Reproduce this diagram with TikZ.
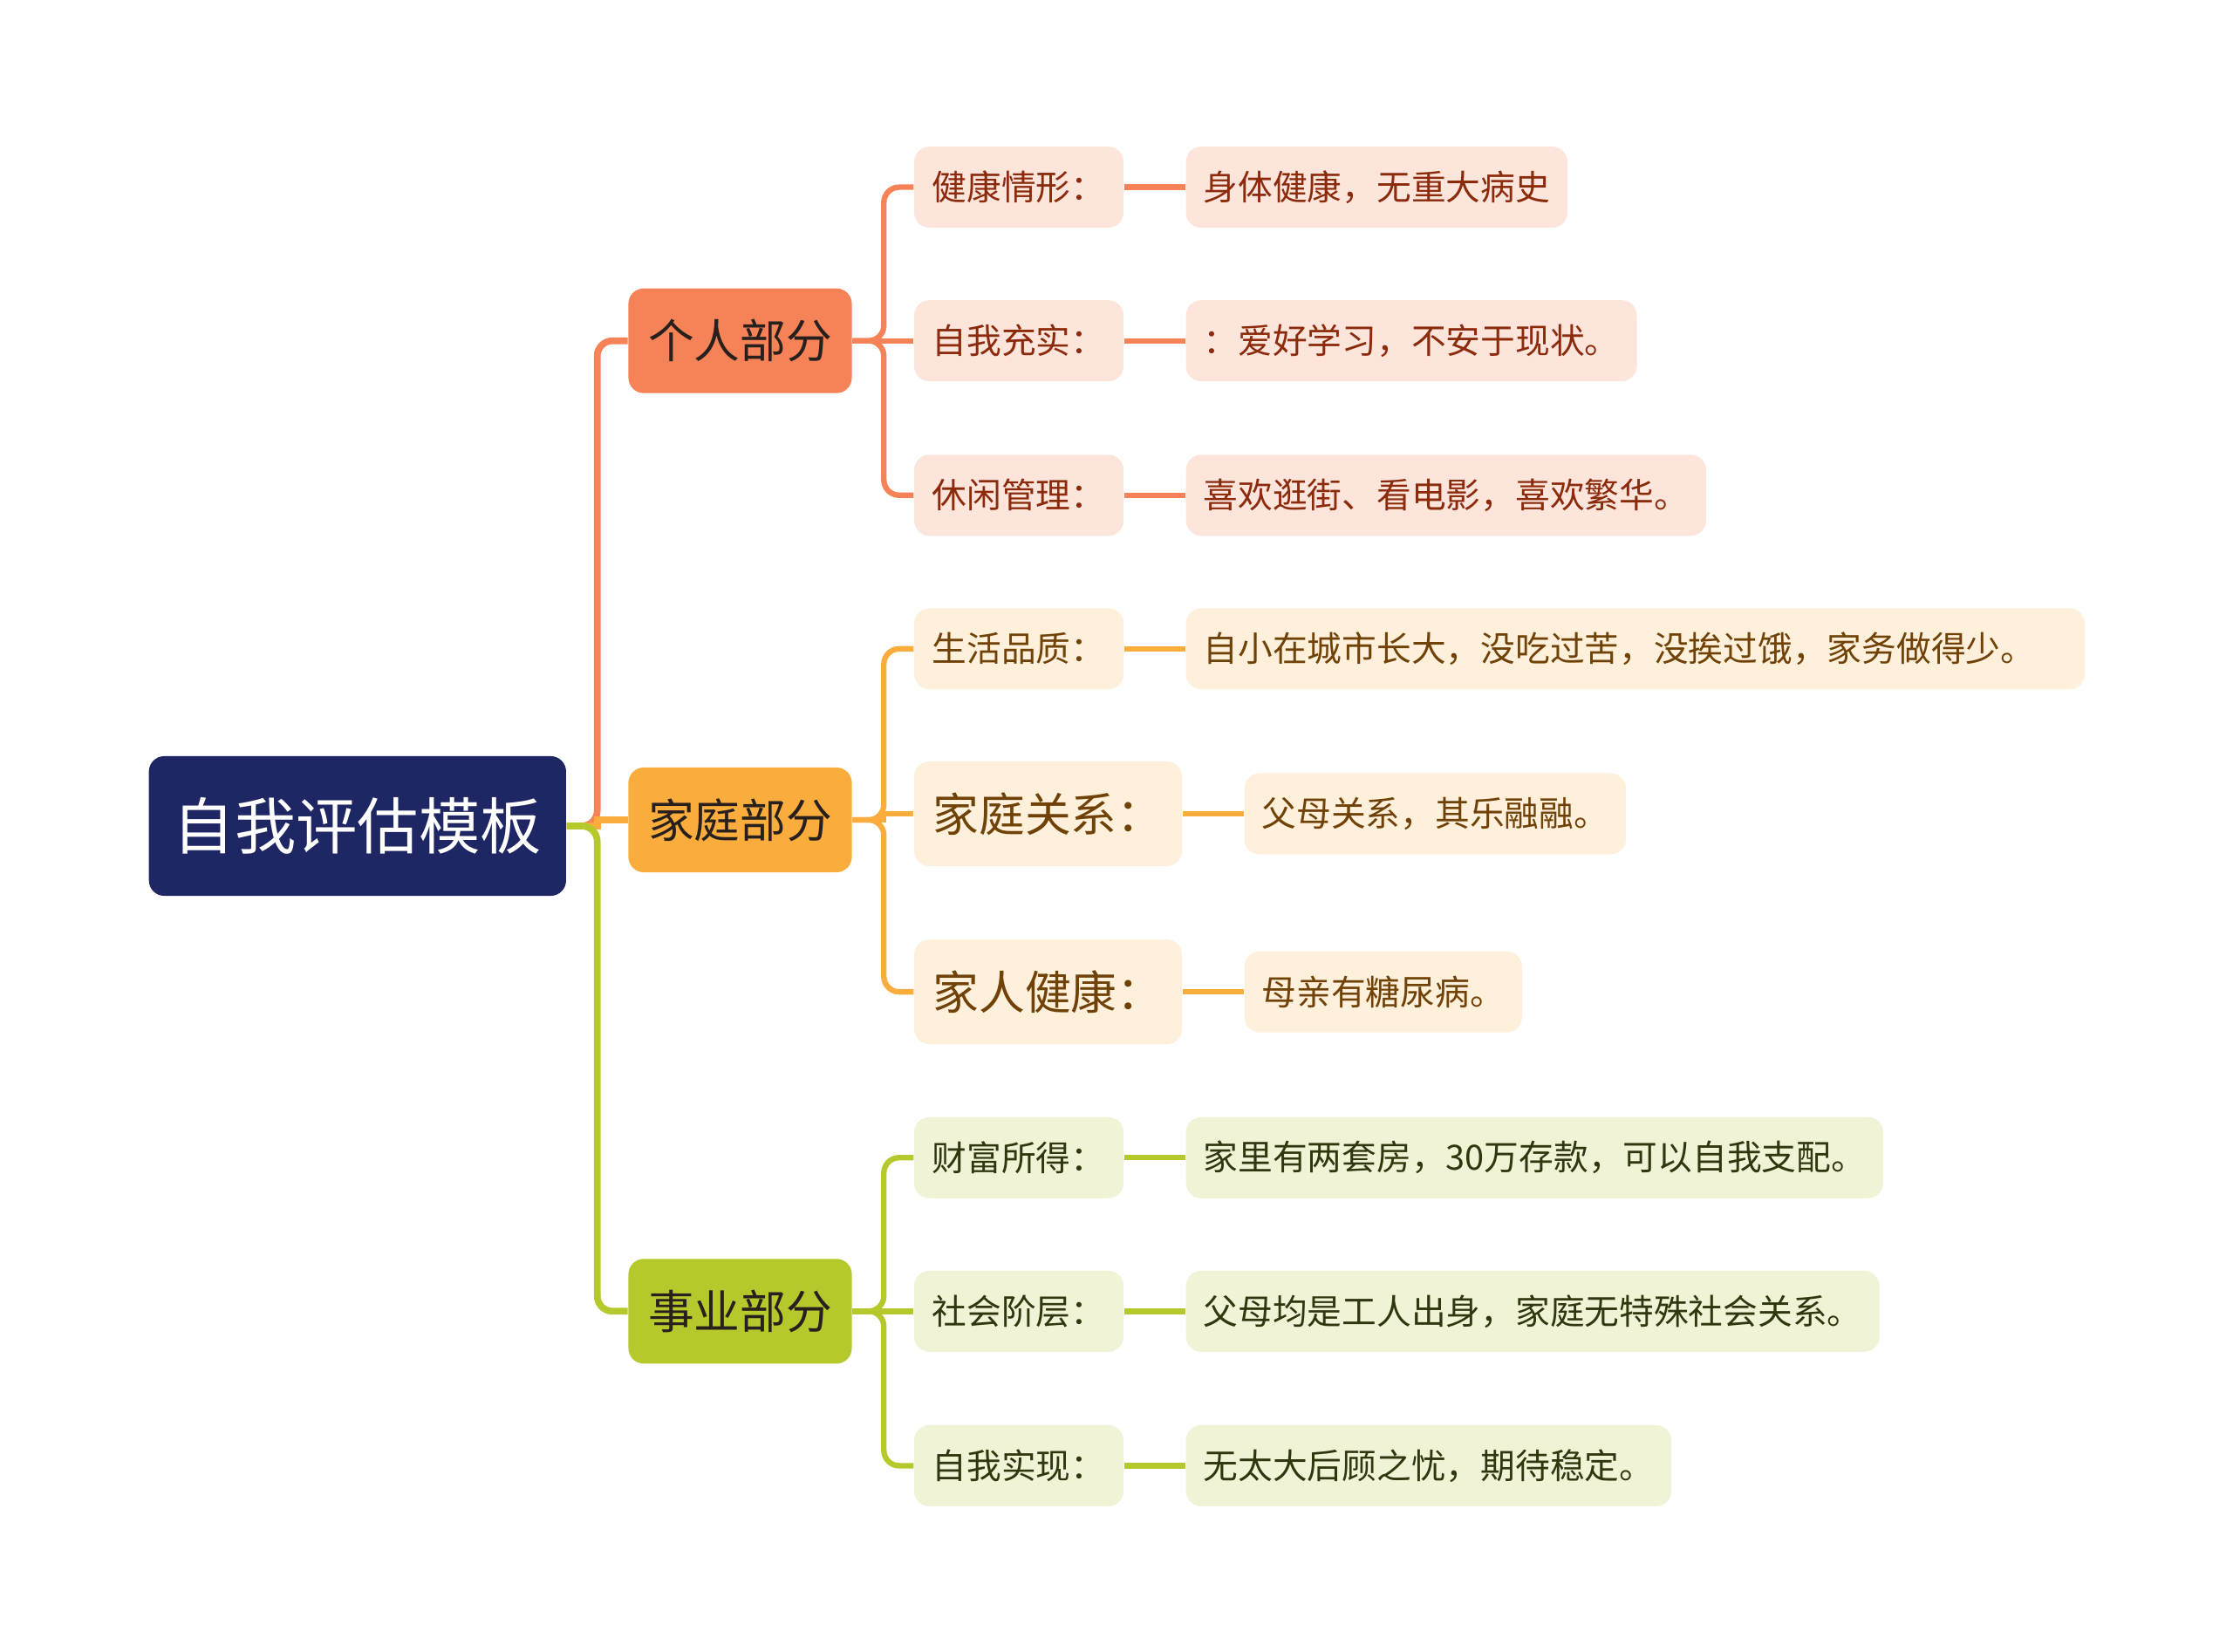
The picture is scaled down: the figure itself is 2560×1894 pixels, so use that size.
\documentclass[tikz,border=0pt]{standalone}
\usepackage{fontspec}
\setmainfont{Noto Sans CJK SC}
\usepackage{xcolor}
\definecolor{seRoot}{RGB}{31,38,100}
\definecolor{seOrange}{RGB}{246,130,88}
\definecolor{seOrangeL}{RGB}{253,229,220}
\definecolor{seOrangeT}{RGB}{140,42,12}
\definecolor{seAmber}{RGB}{250,172,60}
\definecolor{seAmberL}{RGB}{254,240,218}
\definecolor{seAmberT}{RGB}{112,66,8}
\definecolor{seLime}{RGB}{181,201,44}
\definecolor{seLimeL}{RGB}{240,243,214}
\definecolor{seLimeT}{RGB}{48,54,14}
\definecolor{seInk}{RGB}{40,32,28}
\usepackage{tikz}
\usetikzlibrary{positioning}
\tikzset{
  se-root/.style={fill=seRoot,text=white,rounded corners=5pt,inner sep=0pt,
    minimum width=4.78cm,minimum height=1.6cm,font=\fontsize{20}{24}\selectfont},
  se-main/.style={rounded corners=5pt,inner sep=0pt,text=seInk,
    minimum width=2.56cm,minimum height=1.2cm,font=\fontsize{15}{18}\selectfont},
  se-key/.style={rounded corners=5pt,inner sep=0pt,
    minimum width=2.4cm,minimum height=0.93cm,font=\fontsize{11.3}{13.6}\selectfont},
  se-keyl/.style={se-key,minimum width=3.07cm,minimum height=1.2cm,font=\fontsize{15}{18}\selectfont},
  se-val/.style={rounded corners=5pt,inner xsep=0.2cm,inner ysep=0pt,
    minimum height=0.93cm,font=\fontsize{11.3}{13.6}\selectfont},
  se-line/.style={line width=2.2pt,rounded corners=5pt},
  se-link/.style={line width=1.8pt,rounded corners=5pt},
}

\begin{document}
\begin{tikzpicture}[x=0.01cm,y=-0.01cm,node distance=7mm]
  \useasboundingbox (0,0) rectangle (2560,1894);

  % Root
  \node[se-root,anchor=west] (root) at (170,947) {自我评估模板};

  % main branches
  \node[se-main,fill=seOrange,right=of root,yshift=5.56cm] (self) {个人部分};
  \node[se-main,fill=seAmber,right=of root,yshift=0.07cm] (home) {家庭部分};
  \node[se-main,fill=seLime,right=of root,yshift=-5.56cm] (work) {事业部分};

  % personal
  \node[se-key,fill=seOrangeL,text=seOrangeT,right=of self,yshift=1.76cm] (health) {健康情形：};
  \node[se-key,fill=seOrangeL,text=seOrangeT,right=of self] (growth) {自我充实：};
  \node[se-key,fill=seOrangeL,text=seOrangeT,right=of self,yshift=-1.77cm] (leisure) {休闲管理：};
  \node[se-val,fill=seOrangeL,text=seOrangeT,right=of health] (healthv) {身体健康，无重大病史};
  \node[se-val,fill=seOrangeL,text=seOrangeT,right=of growth] (growthv) {：爱好学习，不安于现状。};
  \node[se-val,fill=seOrangeL,text=seOrangeT,right=of leisure] (leisurev) {喜欢逛街、看电影，喜欢繁华。};

  % family
  \node[se-key,fill=seAmberL,text=seAmberT,right=of home,yshift=1.96cm] (life) {生活品质：};
  \node[se-keyl,fill=seAmberL,text=seAmberT,right=of home,yshift=0.07cm] (rel) {家庭关系：};
  \node[se-keyl,fill=seAmberL,text=seAmberT,right=of home,yshift=-1.97cm] (famhealth) {家人健康：};
  \node[se-val,fill=seAmberL,text=seAmberT,right=of life,text width=9.9cm,align=left] (lifev) {自小在城市长大，没吃过苦，没挨过饿，家务做得少。};
  \node[se-val,fill=seAmberL,text=seAmberT,right=of rel] (relv) {父母关系，其乐融融。};
  \node[se-val,fill=seAmberL,text=seAmberT,right=of famhealth] (famhealthv) {母亲有糖尿病。};

  % career
  \node[se-key,fill=seLimeL,text=seLimeT,right=of work,yshift=1.76cm] (wealth) {财富所得：};
  \node[se-key,fill=seLimeL,text=seLimeT,right=of work] (social) {社会阶层：};
  \node[se-key,fill=seLimeL,text=seLimeT,right=of work,yshift=-1.77cm] (goal) {自我实现：};
  \node[se-val,fill=seLimeL,text=seLimeT,right=of wealth] (wealthv) {家里有两套房，30万存款，可以自我支配。};
  \node[se-val,fill=seLimeL,text=seLimeT,right=of social] (socialv) {父母均是工人出身，家庭无特殊社会关系。};
  \node[se-val,fill=seLimeL,text=seLimeT,right=of goal] (goalv) {无太大后顾之忧，期待稳定。};

  % edges
  \draw[se-line,seOrange] (root.east) -- ++(35,0) |- (self.west);
  \draw[line width=2.2pt,seAmber] (root.east) -- ++(35,0) |- (home.west);
  \draw[se-line,seLime] (root.east) -- ++(35,0) |- (work.west);

  \draw[se-link,seOrange] (self.east) -- ++(36,0) |- (health.west);
  \draw[se-link,seOrange] (self.east) -- (growth.west);
  \draw[se-link,seOrange] (self.east) -- ++(36,0) |- (leisure.west);
  \draw[se-link,seOrange] (health) -- (healthv);
  \draw[se-link,seOrange] (growth) -- (growthv);
  \draw[se-link,seOrange] (leisure) -- (leisurev);

  \draw[se-link,seAmber] (home.east) -- ++(36,0) |- (life.west);
  \draw[line width=1.8pt,seAmber] (home.east) -- ++(36,0) |- (rel.west);
  \draw[se-link,seAmber] (home.east) -- ++(36,0) |- (famhealth.west);
  \draw[se-link,seAmber] (life) -- (lifev);
  \draw[se-link,seAmber] (rel) -- (relv);
  \draw[se-link,seAmber] (famhealth) -- (famhealthv);

  \draw[se-link,seLime] (work.east) -- ++(36,0) |- (wealth.west);
  \draw[se-link,seLime] (work.east) -- (social.west);
  \draw[se-link,seLime] (work.east) -- ++(36,0) |- (goal.west);
  \draw[se-link,seLime] (wealth) -- (wealthv);
  \draw[se-link,seLime] (social) -- (socialv);
  \draw[se-link,seLime] (goal) -- (goalv);
\end{tikzpicture}
\end{document}
